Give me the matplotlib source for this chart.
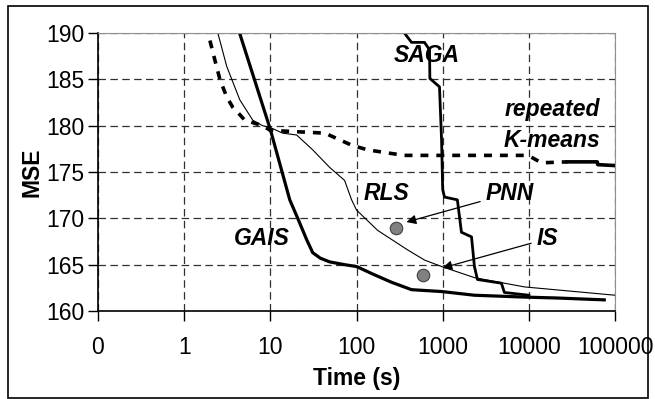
import matplotlib.pyplot as plt
from matplotlib.patches import Rectangle
import numpy as np

plt.rcParams['font.family'] = ['Liberation Sans', 'DejaVu Sans']

# GAIS
gais_t = [4.4, 10, 16.8, 20.8, 26.4, 31, 38, 48.8, 72.7, 100, 162, 255, 435, 970, 2335, 8870, 21400, 75000]
gais_mse = [190, 179.6, 172, 170, 167.7, 166.3, 165.7, 165.3, 165.0, 164.8, 163.9, 163.1, 162.3, 162.1, 161.7, 161.5, 161.4, 161.2]

# SAGA
saga_t = [360, 435, 615, 703, 710, 918, 970, 1000, 1050, 1480, 1650, 2160, 2335, 2530, 4800, 5200, 10000]
saga_mse = [190, 189, 189, 188.2, 185.1, 184.2, 178.5, 173.1, 172.3, 172, 168.5, 168, 164.8, 163.4, 163, 162, 161.7]

# RLS
rls_t = [2.46, 3.12, 4.42, 6.25, 8.17, 10, 13.9, 20.2, 31, 48.8, 72.7, 87.7, 100, 176, 391, 615, 970, 2335, 8870, 100000]
rls_mse = [190, 186.4, 182.8, 180.6, 180, 179.8, 179.2, 179, 177.4, 175.5, 174.1, 172, 170.9, 168.7, 166.6, 165.5, 164.8, 163.6, 162.6, 161.7]

# repeated K-means
km_t = [1.99, 2.27, 2.6, 3.12, 3.66, 4.42, 5.05, 8.17, 10, 43, 87.7, 134, 255, 360, 8870, 10700, 14000, 28000, 62200, 63000, 100000]
km_mse = [189.2, 187.1, 185, 183.1, 182, 181.2, 180.6, 180, 179.5, 179.2, 177.9, 177.4, 177, 176.8, 176.8, 176.6, 176.0, 176.1, 176.1, 175.8, 175.7]

# single points
pnn_t, pnn_mse = 290, 169
is_t, is_mse = 590, 163.9

xticks = [0.1, 1, 10, 100, 1000, 10000, 100000]
xlabels = ["0", "1", "10", "100", "1000", "10000", "100000"]
yticks = [160, 165, 170, 175, 180, 185, 190]

FS = 16.5

fig = plt.figure(figsize=(6.55, 3.99), dpi=100)
ax = fig.add_axes([0.1496, 0.2206, 0.7894, 0.6964])

fig.patches.append(Rectangle((8 / 655, 1.5 / 399), 640 / 655, 392 / 399, transform=fig.transFigure,
                             fill=False, edgecolor='black', linewidth=1.2))

ax.set_xscale('log')
ax.set_xlim(0.1, 100000)
ax.set_ylim(160, 190)

ax.grid(True, color='#303030', linestyle=(0, (6, 3.5)), linewidth=0.9)
ax.set_axisbelow(True)

ax.plot(rls_t, rls_mse, color='black', linewidth=0.8)
km_t = np.array(km_t)
km_mse = np.array(km_mse)
dash = km_t <= 28000
solid = km_t >= 28000
ax.plot(km_t[dash], km_mse[dash], color='black', linewidth=2.6, linestyle=(0, (2.2, 2.2)))
ax.plot(km_t[solid], km_mse[solid], color='black', linewidth=2.6)
ax.plot(saga_t, saga_mse, color='black', linewidth=2.0)
ax.plot(gais_t, gais_mse, color='black', linewidth=2.3)

ax.plot([pnn_t, is_t], [pnn_mse, is_mse], 'o', markersize=9, markerfacecolor='#808080',
        markeredgecolor='#404040', markeredgewidth=0.8)

lab = dict(fontsize=FS, fontweight='bold', fontstyle='italic', ha='center', va='center')
ax.text(649, 187.6, "SAGA", **lab)
ax.text(18700, 181.8, "repeated", **lab)
ax.text(18700, 178.4, "K-means", **lab)
ax.text(223, 172.7, "RLS", **lab)
ax.text(7.95, 167.8, "GAIS", **lab)
arr = dict(arrowstyle='-|>', color='black', linewidth=0.9, mutation_scale=14, shrinkA=2, shrinkB=0)
ax.annotate("PNN", xy=(380, 169.6), xytext=(6000, 172.7), arrowprops=arr, **lab)
ax.annotate("IS", xy=(995, 164.65), xytext=(16400, 167.8), arrowprops=arr, **lab)

ax.set_xticks(xticks)
ax.set_xticklabels(xlabels)
ax.minorticks_off()
ax.set_yticks(yticks)
ax.tick_params(axis='both', direction='out', length=7, width=1, labelsize=FS, pad=3)
ax.tick_params(axis='x', pad=11)

ax.spines['top'].set_color('#909090')
ax.spines['right'].set_color('#909090')
ax.spines['left'].set_linewidth(1.2)
ax.spines['bottom'].set_linewidth(1.2)

ax.set_xlabel("Time (s)", fontsize=FS, fontweight='bold', labelpad=6)
ax.set_ylabel("MSE", fontsize=FS, fontweight='bold', labelpad=2)

fig.savefig("out.png", dpi=100)
